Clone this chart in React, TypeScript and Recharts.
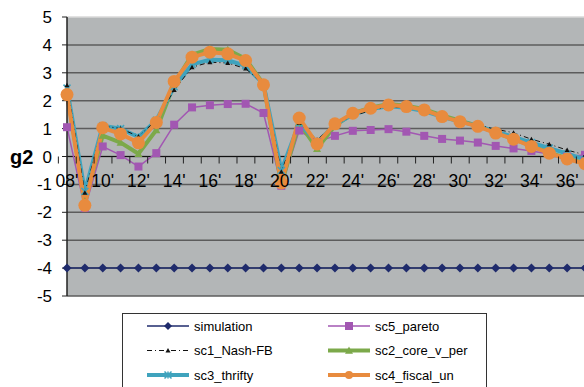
import { CartesianGrid, Label, Line, LineChart, ReferenceLine, XAxis, YAxis } from "recharts";

const YEARS = [
  "08", "09", "10", "11", "12", "13", "14", "15", "16", "17",
  "18", "19", "20", "21", "22", "23", "24", "25", "26", "27",
  "28", "29", "30", "31", "32", "33", "34", "35", "36", "37",
];

const SIMULATION = [
  -4, -4, -4, -4, -4, -4, -4, -4, -4, -4,
  -4, -4, -4, -4, -4, -4, -4, -4, -4, -4,
  -4, -4, -4, -4, -4, -4, -4, -4, -4, -4,
];
const SC5_PARETO = [
  1.05, -1.85, 0.36, 0.05, -0.36, 0.12, 1.14, 1.76, 1.84, 1.88,
  1.89, 1.56, -1.05, 0.93, 0.52, 0.74, 0.92, 0.95, 0.98, 0.89,
  0.74, 0.63, 0.57, 0.5, 0.38, 0.29, 0.2, 0.09, 0.0, 0.06,
];
const SC1_NASH = [
  2.55, -1.3, 1.1, 1.0, 0.72, 1.3, 2.38, 3.2, 3.38, 3.35,
  3.15, 2.6, -0.55, 1.2, 0.6, 1.15, 1.45, 1.65, 1.78, 1.75,
  1.65, 1.45, 1.28, 1.12, 0.98, 0.85, 0.62, 0.44, 0.23, 0.06,
];
const SC2_CORE = [
  2.3, -1.6, 0.75, 0.5, 0.1, 0.95, 2.6, 3.65, 3.85, 3.83,
  3.5, 2.6, -1.0, 1.2, 0.28, 1.1, 1.55, 1.75, 1.88, 1.82,
  1.7, 1.47, 1.28, 1.1, 0.86, 0.63, 0.38, 0.14, -0.07, -0.25,
];
const SC3_THRIFTY = [
  2.45, -1.25, 1.1, 1.0, 0.7, 1.3, 2.5, 3.3, 3.47, 3.45,
  3.25, 2.6, -0.5, 1.2, 0.5, 1.15, 1.5, 1.7, 1.8, 1.75,
  1.63, 1.42, 1.25, 1.1, 0.9, 0.7, 0.5, 0.3, 0.1, -0.1,
];
const SC4_FISCAL = [
  2.22, -1.75, 1.03, 0.81, 0.49, 1.22, 2.69, 3.56, 3.74, 3.68,
  3.44, 2.57, -0.95, 1.38, 0.45, 1.17, 1.55, 1.73, 1.85, 1.79,
  1.67, 1.43, 1.25, 1.08, 0.84, 0.62, 0.36, 0.12, -0.09, -0.26,
];

const Y_TICKS = [-5, -4, -3, -2, -1, 0, 1, 2, 3, 4, 5];

const data = YEARS.map((year, i) => ({
  year,
  simulation: SIMULATION[i],
  sc5: SC5_PARETO[i],
  sc1: SC1_NASH[i],
  sc2: SC2_CORE[i],
  sc3: SC3_THRIFTY[i],
  sc4: SC4_FISCAL[i],
}));

// plot geometry
const CHART_W = 586;
const CHART_H = 387;
const MARGIN = { top: 17, right: 1, bottom: 61, left: 0 };
const Y_AXIS_W = 67;
const X_AXIS_H = 30;
const PLOT_TOP = MARGIN.top;
const PLOT_H = CHART_H - MARGIN.top - MARGIN.bottom - X_AXIS_H;
const PLOT_W = CHART_W - MARGIN.left - MARGIN.right - Y_AXIS_W;
const BAND = PLOT_W / YEARS.length;
const ZERO_Y = PLOT_TOP + PLOT_H / 2; // domain is symmetric -5..5

const FONT = "'Liberation Sans', Arial, sans-serif";

const NAVY = "#1F2B6C";
const PURPLE = "#A257B2";
const GREEN = "#7CA94A";
const TEAL = "#3FA3BD";
const ORANGE = "#E88B3E";

type Shape = "diamond" | "square" | "triangle" | "star" | "circle";

function marker(shape: Shape, cx: number, cy: number, size: number, color: string, key?: string | number) {
  const s = size / 2;
  if (shape === "diamond")
    return <path key={key} d={`M${cx},${cy - s}L${cx + s},${cy}L${cx},${cy + s}L${cx - s},${cy}Z`} fill={color} />;
  if (shape === "square")
    return <rect key={key} x={cx - s} y={cy - s} width={size} height={size} fill={color} />;
  if (shape === "triangle")
    return <path key={key} d={`M${cx},${cy - s}L${cx + s},${cy + s * 0.8}L${cx - s},${cy + s * 0.8}Z`} fill={color} />;
  if (shape === "star")
    return (
      <path
        key={key}
        d={`M${cx - s},${cy - s}L${cx + s},${cy + s}M${cx + s},${cy - s}L${cx - s},${cy + s}M${cx},${cy - s}L${cx},${cy + s}`}
        stroke={color}
        strokeWidth={1.5}
        fill="none"
      />
    );
  return <circle key={key} cx={cx} cy={cy} r={s} fill={color} />;
}

const dotFn = (shape: Shape, size: number, color: string) => (p: any) =>
  marker(shape, p.cx, p.cy, size, color, `${shape}-${p.index}`);

const SERIES = [
  { key: "simulation", name: "simulation", color: NAVY, width: 1.5, dash: undefined, shape: "diamond" as Shape, size: 9 },
  { key: "sc5", name: "sc5_pareto", color: PURPLE, width: 1.5, dash: undefined, shape: "square" as Shape, size: 8 },
  { key: "sc2", name: "sc2_core_v_per", color: GREEN, width: 4, dash: undefined, shape: "triangle" as Shape, size: 8 },
  { key: "sc3", name: "sc3_thrifty", color: TEAL, width: 4, dash: undefined, shape: "star" as Shape, size: 7 },
  { key: "sc1", name: "sc1_Nash-FB", color: "#111", width: 1, dash: "5 3 1 3", shape: "triangle" as Shape, size: 5 },
  { key: "sc4", name: "sc4_fiscal_un", color: ORANGE, width: 4, dash: undefined, shape: "circle" as Shape, size: 13 },
];

const LEGEND_ORDER = ["simulation", "sc5", "sc1", "sc2", "sc3", "sc4"];

const XTick = (props: any) => {
  const { x, index, payload } = props;
  const left = x - BAND / 2;
  return (
    <g>
      <line x1={left} y1={ZERO_Y} x2={left} y2={ZERO_Y + 7} stroke="#222" />
      {index % 2 === 0 && (
        <text x={x} y={ZERO_Y + 30} textAnchor="middle" fontSize={17.5} fontFamily={FONT} fill="#000">
          {`${payload.value}'`}
        </text>
      )}
    </g>
  );
};

const gridLine = (p: any) => (
  <line
    key={`h-${p.y1}`}
    x1={p.x1}
    y1={p.y1}
    x2={p.x2}
    y2={p.y2}
    stroke={p.y1 < PLOT_TOP + 2 ? "#d9d9d9" : "#5c5c5c"}
    strokeWidth={1.5}
  />
);

function LegendBox() {
  const rows = [0, 1, 2];
  return (
    <svg
      width={366}
      height={80}
      style={{ position: "absolute", left: 122, top: 313 }}
    >
      <rect x={0.5} y={0.5} width={364} height={90} fill="#fff" stroke="#333" />
      {rows.map((r) =>
        [0, 1].map((c) => {
          const s = SERIES.find((d) => d.key === LEGEND_ORDER[r * 2 + c])!;
          const x0 = c === 0 ? 25 : 206;
          const y = 13 + r * 24.5;
          return (
            <g key={s.key}>
              <line
                x1={x0}
                y1={y}
                x2={x0 + 42}
                y2={y}
                stroke={s.color}
                strokeWidth={s.width}
                strokeDasharray={s.dash}
              />
              {marker(s.shape, x0 + 21, y, s.key === "sc4" ? 8 : Math.min(s.size, 8), s.color)}
              <text x={x0 + 47} y={y + 4.5} fontSize={13} fontFamily={FONT} fill="#000">
                {s.name}
              </text>
            </g>
          );
        })
      )}
    </svg>
  );
}

export default function App() {
  return (
    <div
      style={{
        position: "absolute",
        left: 0,
        top: 0,
        width: 584,
        height: 387,
        overflow: "hidden",
        background: "#fff",
        fontFamily: FONT,
      }}
    >
      <LineChart width={CHART_W} height={CHART_H} data={data} margin={MARGIN}>
        <CartesianGrid vertical={false} fill="#B3B6B7" fillOpacity={1} horizontal={gridLine} />
        <XAxis
          dataKey="year"
          interval={0}
          axisLine={false}
          tickLine={false}
          height={X_AXIS_H}
          tick={<XTick />}
        />
        <YAxis
          width={Y_AXIS_W}
          domain={[-5, 5]}
          ticks={Y_TICKS}
          interval={0}
          tickSize={5}
          tickMargin={10}
          axisLine={{ stroke: "#222", strokeWidth: 1.5 }}
          tickLine={{ stroke: "#222" }}
          tick={{ fill: "#000", fontSize: 17, fontFamily: FONT }}
        >
          <Label
            value="g2"
            position="insideLeft"
            offset={10}
            angle={0}
            style={{ fontWeight: "bold", fontSize: 20, fill: "#000", fontFamily: FONT }}
          />
        </YAxis>
        <ReferenceLine y={0} stroke="#111" strokeWidth={1} />
        {SERIES.map((s) => (
          <Line
            key={s.key}
            type="linear"
            dataKey={s.key}
            name={s.name}
            stroke={s.color}
            strokeWidth={s.width}
            strokeDasharray={s.dash}
            dot={dotFn(s.shape, s.size, s.color)}
            activeDot={false}
            isAnimationActive={false}
          />
        ))}
      </LineChart>
      <LegendBox />
    </div>
  );
}
